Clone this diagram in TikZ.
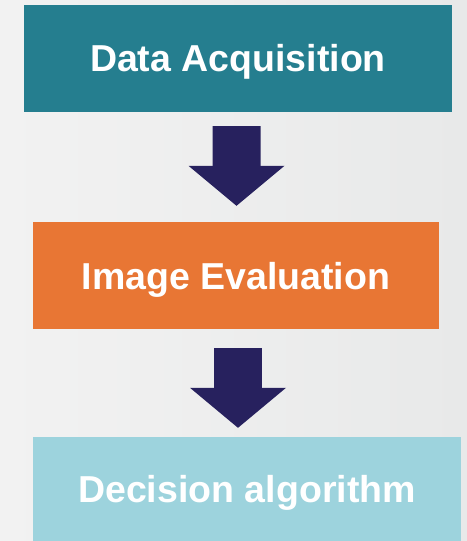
\documentclass[tikz,border=0pt]{standalone}
\usepackage{fontspec}
\setmainfont{Liberation Sans}
\usetikzlibrary{arrows.meta,calc}
\definecolor{bgleft}{HTML}{F2F2F2}
\definecolor{bgright}{HTML}{E8E9E9}
\definecolor{tealbox}{HTML}{257E8F}
\definecolor{orangebox}{HTML}{E87634}
\definecolor{bluebox}{HTML}{9DD3DD}
\definecolor{arrowc}{HTML}{27215E}
\tikzset{
  stagebox/.style={rectangle, draw=none, inner sep=0pt, text=white,
    text height=27bp, text depth=0pt,
    font=\fontsize{37.5bp}{45bp}\selectfont\bfseries},
  bigarrow/.style={draw=arrowc, line width=48bp, line cap=butt,
    -{Triangle[width=96bp,length=40bp,line width=0pt]}}
}
\begin{document}
\begin{tikzpicture}[x=1bp,y=-1bp]
\shade[left color=bgleft, right color=bgright] (0,0) rectangle (467,541);
\useasboundingbox (0,0) rectangle (467,541);
\node[stagebox, fill=tealbox, minimum width=428bp, minimum height=107bp] (a) at (238,58.5) {Data Acquisition};
\node[stagebox, fill=orangebox, minimum width=406bp, minimum height=107bp] (b) at (236,275.5) {Image Evaluation};
\node[stagebox, fill=bluebox, minimum width=428bp, minimum height=104bp] (c) at (247,489) {Decision algorithm};
\draw[bigarrow] ($(a.south)+(-1.5,14)$) -- ($(b.north)+(0.5,-16)$);
\draw[bigarrow] ($(b.south)+(2,19)$) -- ($(c.north)+(-9,-9)$);
\end{tikzpicture}
\end{document}
